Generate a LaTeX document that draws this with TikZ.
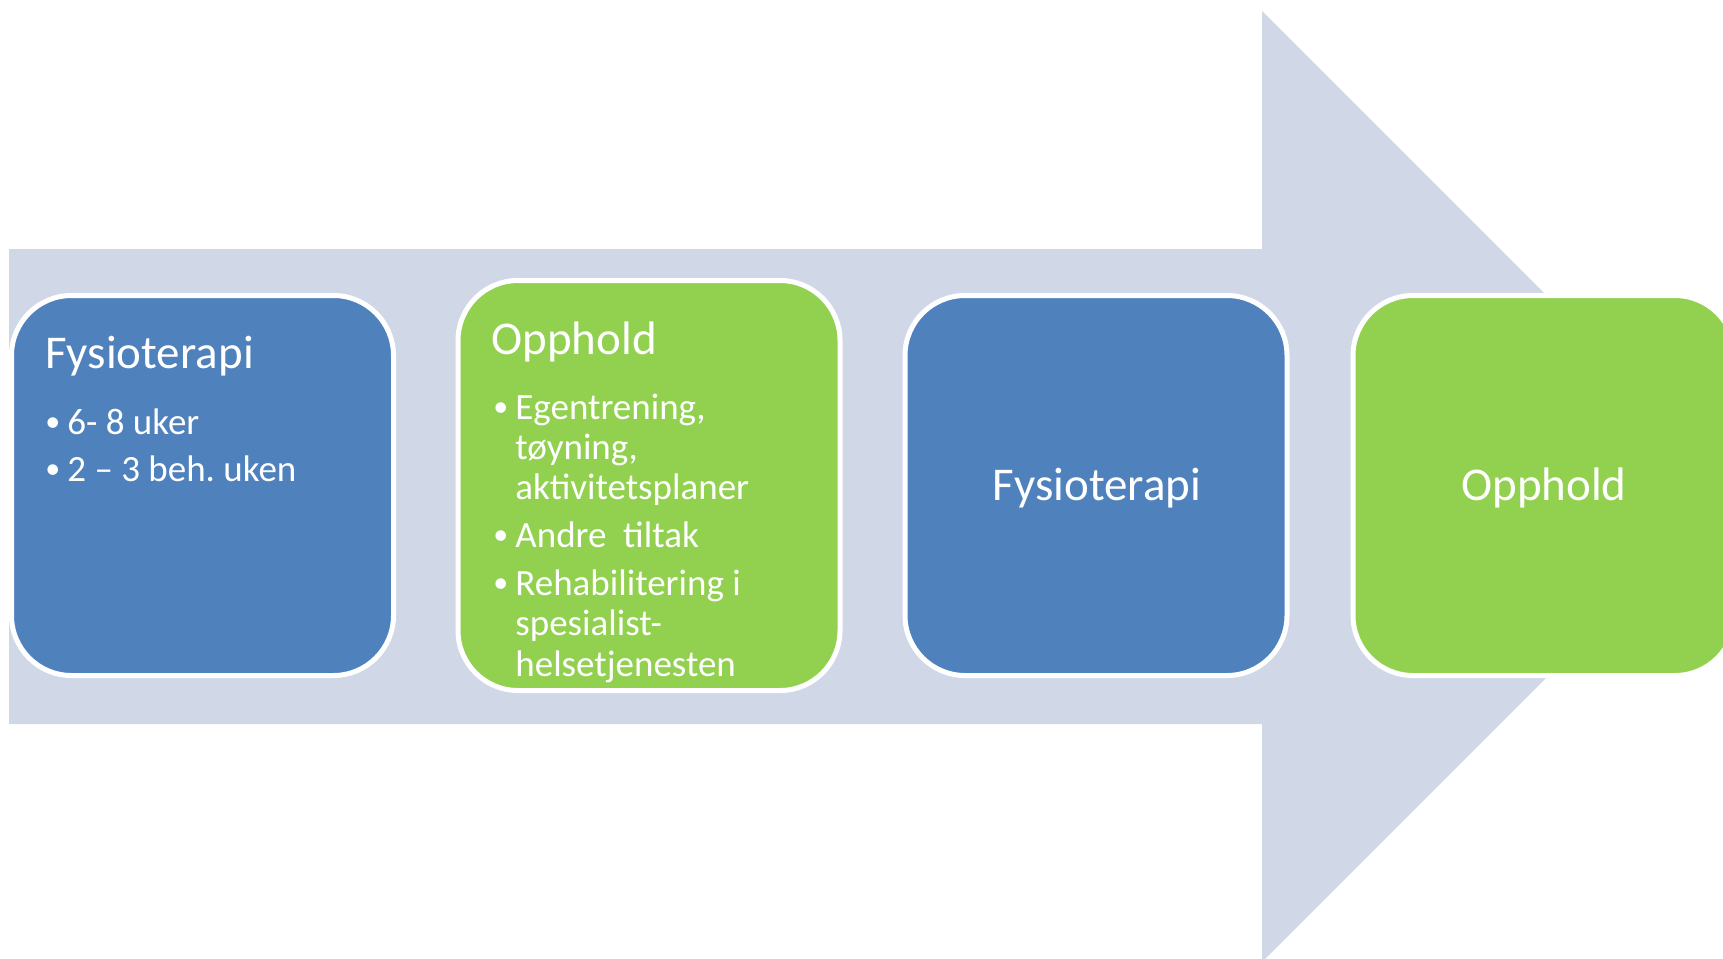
\documentclass[tikz,border=0pt]{standalone}
\usepackage{fontspec}
\setmainfont{Carlito}
\definecolor{arrowfill}{HTML}{D0D8E8}
\definecolor{boxblue}{HTML}{4F81BD}
\definecolor{boxgreen}{HTML}{92D050}

\begin{document}
\begin{tikzpicture}[x=0.5pt,y=-0.5pt,
  box/.style={shape=rectangle,rounded corners=30pt,draw=white,line width=2.5pt,minimum width=191pt,minimum height=190pt,inner sep=0pt},
  ttl/.style={text=white,font=\fontsize{23.5}{28}\selectfont,inner sep=0pt},
  itm/.style={text=white,font=\fontsize{18.5}{20}\selectfont,anchor=base west,inner sep=0pt},
  blt/.style={text=white,font=\fontsize{15}{18}\selectfont,anchor=base west,inner sep=0pt,yshift=1.1pt}]
\clip (0,0) rectangle (1723,958);
\fill[white] (0,0) rectangle (1723,958);

% big arrow behind the boxes
\fill[arrowfill] (9,249) -- (1262,249) -- (1262,11) -- (1737.5,486.5) -- (1262,962) -- (1262,724) -- (9,724) -- cycle;

\node[box,fill=boxblue] (b1) at (202.5,485.5) {};
\node[box,fill=boxgreen,minimum height=205pt] (b2) at (649,485.5) {};
\node[box,fill=boxblue] (b3) at (1096,485.5) {};
\node[box,fill=boxgreen] (b4) at (1544,485.5) {};

% first box
\node[ttl,anchor=base west] (t1) at (45,368) {Fysioterapi};
\node[blt] (d1a) at (45,434) {•};
\node[itm] (i1a) at (67,434) {6- 8 uker};
\node[blt] (d1b) at (45,481) {•};
\node[itm] (i1b) at (67,481) {2 – 3 beh.\ uken};

% second box
\node[ttl,anchor=base west] (t2) at (491,354) {Opphold};
\node[blt] (d2a) at (493,419) {•};
\node[itm] (i2a) at (515,419) {Egentrening,};
\node[itm] (i2b) at (515,459) {tøyning,};
\node[itm] (i2c) at (515,499) {aktivitetsplaner};
\node[blt] (d2d) at (493,547) {•};
\node[itm] (i2d) at (515,547) {Andre\ \ tiltak};
\node[blt] (d2e) at (493,595) {•};
\node[itm] (i2e) at (515,595) {Rehabilitering i};
\node[itm] (i2f) at (515,635) {spesialist-};
\node[itm] (i2g) at (515,676) {helsetjenesten};

% third and fourth box
\node[ttl,anchor=base] (t3) at (1097,500) {Fysioterapi};
\node[ttl,anchor=base] (t4) at (1544,500) {Opphold};
\end{tikzpicture}
\end{document}
